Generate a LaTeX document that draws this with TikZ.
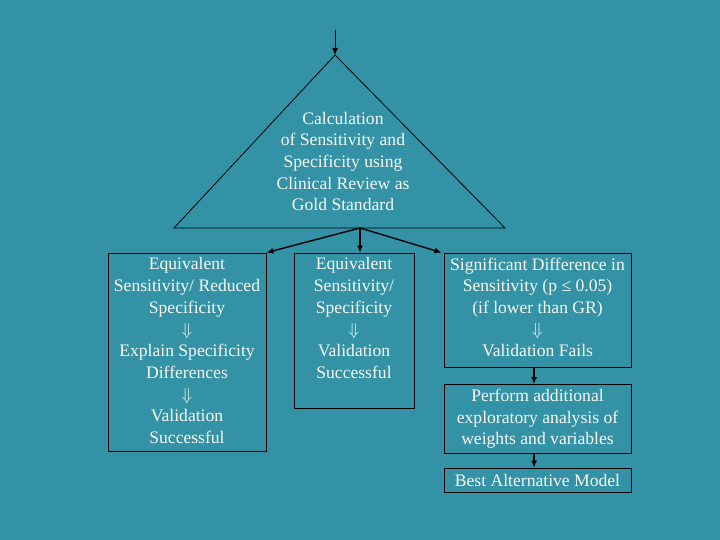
\documentclass[tikz,border=0pt]{standalone}
\usepackage{fontspec}
\setmainfont{Liberation Serif}
\usetikzlibrary{arrows.meta}
\definecolor{bg}{RGB}{52,146,166}
\definecolor{txtc}{RGB}{248,248,240}
\begin{document}
\begin{tikzpicture}[x=1pt,y=-1pt,
  every node/.style={font=\fontsize{17.6}{21.7}\selectfont, text=txtc, align=center, inner sep=0pt},
  conn/.style={draw=black, line width=1.4pt, -{Latex[length=7pt,width=6pt]}},
  thinconn/.style={draw=black, line width=1pt, -{Latex[length=7pt,width=6pt]}}]
\useasboundingbox[fill=bg] (0,0) rectangle (720,540);
% triangle
\coordinate (top) at (335,30);
\coordinate (apex) at (335,55);
\coordinate (bl) at (174,228);
\coordinate (br) at (505,228);
\coordinate (split) at (360,228);
\draw[black, line width=0.8pt] (apex) -- (bl) -- (br) -- cycle;
\draw[thinconn] (top) -- (apex);
\node (tri) at (343,161.5) {Calculation\\of Sensitivity and\\Specificity using\\Clinical Review as\\Gold Standard};
% boxes
\node[draw=black, line width=0.8pt, minimum width=158pt, minimum height=198pt] (left) at (187,352) {};
\node[anchor=north] (lefttxt) at (187,257.5) {Equivalent\\Sensitivity/ Reduced\\Specificity\\$\Downarrow$\\Explain Specificity\\Differences\\$\Downarrow$\\Validation\\Successful};
\node[draw=black, line width=0.8pt, minimum width=120pt, minimum height=155pt] (mid) at (354,330.5) {};
\node[anchor=north] (midtxt) at (354,257.5) {Equivalent\\Sensitivity/\\Specificity\\$\Downarrow$\\Validation\\Successful};
\node[draw=black, line width=0.8pt, minimum width=187pt, minimum height=114pt] (r1) at (537.5,310) {};
\node[anchor=north] (r1txt) at (537.5,257.5) {Significant Difference in\\Sensitivity (p ≤ 0.05)\\(if lower than GR)\\$\Downarrow$\\Validation Fails};
\node[draw=black, line width=0.8pt, minimum width=187pt, minimum height=69pt] (r2) at (537.5,419) {Perform additional\\exploratory analysis of\\weights and variables};
\node[draw=black, line width=0.8pt, minimum width=187pt, minimum height=24pt] (r3) at (537.5,480) {Best Alternative Model};
% connectors
\draw[conn] (split) -- (left.north east);
\draw[conn] (split) -- (mid.north -| split);
\draw[conn] (split) -- ([xshift=-2pt]r1.north west);
\draw[conn] (r1.south -| 534,0) -- (r2.north -| 534,0);
\draw[conn] (r2.south -| 534,0) -- (r3.north -| 534,0);
\end{tikzpicture}
\end{document}
